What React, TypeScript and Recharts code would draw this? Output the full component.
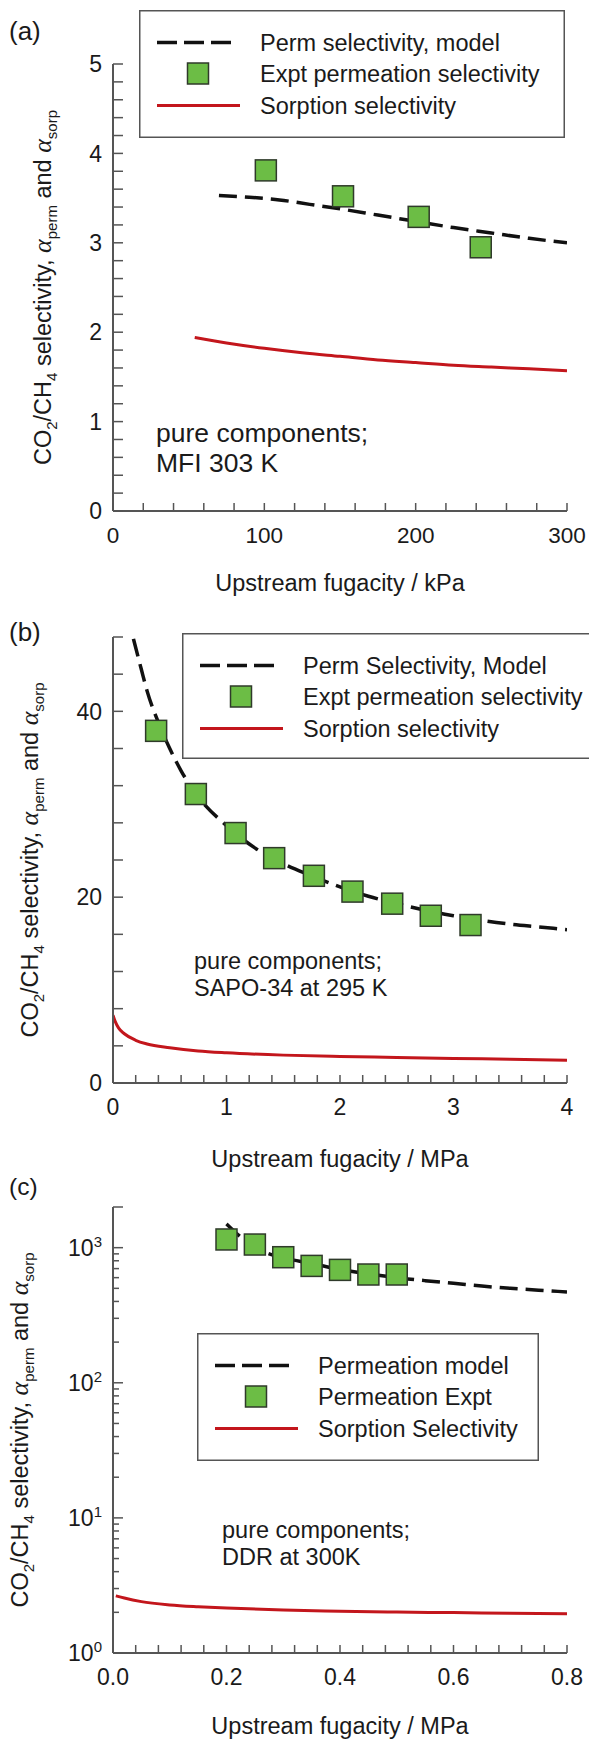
import React from 'react';
import { ComposedChart, Line, Scatter, XAxis, YAxis, Legend } from 'recharts';

const FONT = '"Liberation Sans", Arial, Helvetica, sans-serif';
const TEXT = '#1a1a1a';
const AXIS = '#555555';
const GREEN = '#6cbd45';
const GREEN_EDGE = '#2f3a2a';
const RED = '#c3161c';
const DASH = '#111111';
const FS = 23.5;

// ---------- Panel (a): MFI 303 K ----------
const modelAx = [70, 90, 110, 130, 150, 175, 200, 225, 250, 275, 300];
const modelAy = [3.53, 3.51, 3.48, 3.43, 3.38, 3.31, 3.24, 3.17, 3.11, 3.05, 3.0];
const exptAx = [101, 152, 202, 243];
const exptAy = [3.81, 3.52, 3.29, 2.95];
const sorpAx = [54, 75, 100, 125, 150, 175, 200, 225, 250, 275, 300];
const sorpAy = [1.94, 1.88, 1.82, 1.77, 1.73, 1.69, 1.66, 1.63, 1.61, 1.59, 1.57];
const xTicksA = [0, 20, 40, 60, 80, 100, 120, 140, 160, 180, 200, 220, 240, 260, 280, 300];
const xMajorA = [0, 100, 200, 300];
const yTicksA = [0, 0.2, 0.4, 0.6, 0.8, 1, 1.2, 1.4, 1.6, 1.8, 2, 2.2, 2.4, 2.6, 2.8, 3, 3.2, 3.4, 3.6, 3.8, 4, 4.2, 4.4, 4.6, 4.8, 5];
const yMajorA = [0, 1, 2, 3, 4, 5];
const legendA = ['Perm selectivity, model', 'Expt permeation selectivity', 'Sorption selectivity'];
const noteA = ['pure components;', 'MFI 303 K'];

// ---------- Panel (b): SAPO-34 at 295 K ----------
const modelBx = [0.18, 0.25, 0.3, 0.4, 0.5, 0.6, 0.75, 1.0, 1.25, 1.5, 1.75, 2.0, 2.25, 2.5, 2.75, 3.0, 3.25, 3.5, 3.75, 4.0];
const modelBy = [47.8, 44.5, 42.2, 38.8, 36.0, 33.6, 30.8, 27.7, 25.3, 23.6, 22.3, 21.1, 20.1, 19.3, 18.6, 18.0, 17.5, 17.1, 16.8, 16.5];
const exptBx = [0.38, 0.73, 1.08, 1.42, 1.77, 2.11, 2.46, 2.8, 3.15];
const exptBy = [37.9, 31.1, 26.9, 24.2, 22.3, 20.6, 19.3, 18.0, 17.0];
const sorpBx = [0, 0.02, 0.05, 0.1, 0.2, 0.3, 0.5, 0.75, 1.0, 1.5, 2.0, 2.5, 3.0, 3.5, 4.0];
const sorpBy = [7.3, 6.6, 5.9, 5.3, 4.6, 4.2, 3.8, 3.45, 3.25, 3.0, 2.85, 2.75, 2.65, 2.55, 2.45];
const xTicksB = [0, 0.2, 0.4, 0.6, 0.8, 1, 1.2, 1.4, 1.6, 1.8, 2, 2.2, 2.4, 2.6, 2.8, 3, 3.2, 3.4, 3.6, 3.8, 4];
const xMajorB = [0, 1, 2, 3, 4];
const yTicksB = [0, 4, 8, 12, 16, 20, 24, 28, 32, 36, 40, 44, 48];
const yMajorB = [0, 20, 40];
const legendB = ['Perm Selectivity, Model', 'Expt permeation selectivity', 'Sorption selectivity'];
const noteB = ['pure components;', 'SAPO-34 at 295 K'];

// ---------- Panel (c): DDR at 300K ----------
const modelCx = [0.2, 0.225, 0.25, 0.275, 0.3, 0.35, 0.4, 0.45, 0.5, 0.55, 0.6, 0.65, 0.7, 0.75, 0.8];
const modelCy = [1500, 1200, 1000, 900, 840, 765, 690, 640, 600, 570, 545, 520, 500, 485, 470];
const exptCx = [0.2, 0.25, 0.3, 0.35, 0.4, 0.45, 0.5];
const exptCy = [1150, 1055, 850, 733, 685, 633, 633];
const sorpCx = [0.005, 0.02, 0.05, 0.1, 0.15, 0.2, 0.3, 0.4, 0.5, 0.6, 0.7, 0.8];
const sorpCy = [2.65, 2.55, 2.4, 2.27, 2.2, 2.15, 2.08, 2.04, 2.01, 1.99, 1.97, 1.95];
const xTicksC = [0, 0.04, 0.08, 0.12, 0.16, 0.2, 0.24, 0.28, 0.32, 0.36, 0.4, 0.44, 0.48, 0.52, 0.56, 0.6, 0.64, 0.68, 0.72, 0.76, 0.8];
const xMajorC = [0, 0.2, 0.4, 0.6, 0.8];
const yTicksC = [1, 2, 3, 4, 5, 6, 7, 8, 9, 10, 20, 30, 40, 50, 60, 70, 80, 90, 100, 200, 300, 400, 500, 600, 700, 800, 900, 1000, 2000];
const yMajorC = [1, 10, 100, 1000];
const yExpC = ['0', '1', '2', '3'];
const legendC = ['Permeation model', 'Permeation Expt', 'Sorption Selectivity'];
const noteC = ['pure components;', 'DDR at 300K'];

const zip = (xs: number[], ys: number[]) => xs.map((x, i) => ({ x, y: ys[i] }));
const isIn = (v: number, arr: number[]) => arr.some((m) => Math.abs(m - v) < 1e-6);

function makeXTick(majors: number[], fmt: (v: number) => string, fs: number) {
  return (props: any) => {
    const { x, y, payload } = props;
    const v = payload.value;
    const major = isIn(v, majors);
    return (
      <g>
        <line x1={x} y1={y} x2={x} y2={y - 8} stroke={AXIS} strokeWidth={1.5} />
        {major && (
          <text x={x} y={y + 32} textAnchor="middle" fontSize={fs} fontFamily={FONT} fill={TEXT}>
            {fmt(v)}
          </text>
        )}
      </g>
    );
  };
}

function makeYTick(majors: number[], fmt: (v: number) => string) {
  return (props: any) => {
    const { x, y, payload } = props;
    const v = payload.value;
    const major = isIn(v, majors);
    return (
      <g>
        <line x1={x} y1={y} x2={x + 10} y2={y} stroke={AXIS} strokeWidth={1.5} />
        {major && (
          <text x={x - 11} y={y} dy="0.36em" textAnchor="end" fontSize={23} fontFamily={FONT} fill={TEXT}>
            {fmt(v)}
          </text>
        )}
      </g>
    );
  };
}

function makeLogYTick(majors: number[], exps: string[]) {
  return (props: any) => {
    const { x, y, payload } = props;
    const v = payload.value;
    const idx = majors.findIndex((m) => Math.abs(m - v) < 1e-6);
    const len = idx >= 0 || v === 2000 ? 10 : 6;
    return (
      <g>
        <line x1={x} y1={y} x2={x + len} y2={y} stroke={AXIS} strokeWidth={1.5} />
        {idx >= 0 && (
          <text x={x - 11} y={y} dy="0.36em" textAnchor="end" fontSize={23} fontFamily={FONT} fill={TEXT}>
            10
            <tspan dy={-9} fontSize={15}>
              {exps[idx]}
            </tspan>
          </text>
        )}
      </g>
    );
  };
}

const squareShape = (props: any) => {
  const { cx, cy } = props;
  return <rect x={cx - 10.5} y={cy - 10.5} width={21} height={21} fill={GREEN} stroke={GREEN_EDGE} strokeWidth={1.5} />;
};

function YTitle({ x, y }: { x: number; y: number }) {
  return (
    <text
      transform={`rotate(-90 ${x} ${y})`}
      x={x}
      y={y}
      textAnchor="middle"
      fontSize={FS}
      fontFamily={FONT}
      fill={TEXT}
    >
      {'CO'}
      <tspan fontSize={15} dy={6}>{'2'}</tspan>
      <tspan dy={-6}>{'/CH'}</tspan>
      <tspan fontSize={15} dy={6}>{'4'}</tspan>
      <tspan dy={-6}>{' selectivity, '}</tspan>
      <tspan fontStyle="italic" fontFamily='"Liberation Serif", serif' fontSize={26}>{'α'}</tspan>
      <tspan fontSize={15} dy={6}>{'perm'}</tspan>
      <tspan dy={-6}>{' and '}</tspan>
      <tspan fontStyle="italic" fontFamily='"Liberation Serif", serif' fontSize={26}>{'α'}</tspan>
      <tspan fontSize={15} dy={6}>{'sorp'}</tspan>
    </text>
  );
}

function LegendBox({ w, h, labels, rightBorder }: { w: number; h: number; labels: string[]; rightBorder: boolean }) {
  const rows = [32.5, 63.5, 95.5];
  return (
    <svg width={w} height={h} style={{ display: 'block', overflow: 'visible' }}>
      <rect x={0} y={0} width={w} height={h} fill="#ffffff" />
      {rightBorder ? (
        <rect x={0.75} y={0.75} width={w - 1.5} height={h - 1.5} fill="none" stroke={AXIS} strokeWidth={1.5} />
      ) : (
        <path d={`M ${w + 5} 0.75 H 0.75 V ${h - 0.75} H ${w + 5}`} fill="none" stroke={AXIS} strokeWidth={1.5} />
      )}
      <line x1={18} y1={rows[0]} x2={92} y2={rows[0]} stroke={DASH} strokeWidth={3.5} strokeDasharray="20 7" />
      <rect x={48.5} y={rows[1] - 10.5} width={21} height={21} fill={GREEN} stroke={GREEN_EDGE} strokeWidth={1.5} />
      <line x1={18} y1={rows[2]} x2={101} y2={rows[2]} stroke={RED} strokeWidth={3} />
      {labels.map((t, i) => (
        <text key={t} x={121} y={rows[i] + 8} fontSize={FS} fontFamily={FONT} fill={TEXT}>
          {t}
        </text>
      ))}
    </svg>
  );
}

type PanelProps = {
  top: number;
  height: number;
  plotTop: number;
  plotBottom: number;
  xDomain: [number, number];
  yDomain: [number, number];
  logY?: boolean;
  xTicks: number[];
  yTicks: number[];
  xTick: any;
  yTick: any;
  model: { x: number; y: number }[];
  expt: { x: number; y: number }[];
  sorp: { x: number; y: number }[];
  legendLabels: string[];
  legendBox: { left: number; top: number; width: number; height: number; rightBorder: boolean };
  panelLabel: string;
  panelLabelY: number;
  panelLabelFs: number;
  xTitle: string;
  xTitleY: number;
  yTitleX: number;
  note: string[];
  noteX: number;
  noteY: number[];
  noteFs: number;
};

const PLOT_LEFT = 113;
const PLOT_RIGHT = 567;
const W = 589;

function Panel(p: PanelProps) {
  const yAxisW = 60;
  const xAxisH = 30;
  const margin = {
    top: p.plotTop,
    right: W - PLOT_RIGHT,
    left: PLOT_LEFT - yAxisW,
    bottom: p.height - p.plotBottom - xAxisH,
  };
  const plotMidY = (p.plotTop + p.plotBottom) / 2;
  const plotMidX = (PLOT_LEFT + PLOT_RIGHT) / 2;
  return (
    <div style={{ position: 'absolute', left: 0, top: p.top, width: W, height: p.height }}>
      <ComposedChart width={W} height={p.height} margin={margin} style={{ fontFamily: FONT }}>
        <XAxis
          type="number"
          dataKey="x"
          domain={p.xDomain}
          ticks={p.xTicks}
          interval={0}
          allowDataOverflow
          height={xAxisH}
          tickSize={0}
          tickMargin={0}
          tickLine={false}
          axisLine={{ stroke: AXIS, strokeWidth: 2 }}
          tick={p.xTick}
        />
        <YAxis
          type="number"
          dataKey="y"
          scale={p.logY ? 'log' : 'linear'}
          domain={p.yDomain}
          ticks={p.yTicks}
          interval={0}
          allowDataOverflow
          width={yAxisW}
          tickSize={0}
          tickMargin={0}
          tickLine={false}
          axisLine={{ stroke: AXIS, strokeWidth: 2 }}
          tick={p.yTick}
        />
        <Legend
          layout="vertical"
          align="center"
          verticalAlign="middle"
          wrapperStyle={{
            left: p.legendBox.left,
            top: p.legendBox.top,
            width: p.legendBox.width,
            height: p.legendBox.height,
            margin: 0,
            padding: 0,
            lineHeight: 0,
          }}
          content={() => (
            <LegendBox
              w={p.legendBox.width}
              h={p.legendBox.height}
              labels={p.legendLabels}
              rightBorder={p.legendBox.rightBorder}
            />
          )}
        />
        <Line
          name={p.legendLabels[2]}
          data={p.sorp}
          dataKey="y"
          type="monotone"
          stroke={RED}
          strokeWidth={3}
          dot={false}
          activeDot={false}
          isAnimationActive={false}
        />
        <Line
          name={p.legendLabels[0]}
          data={p.model}
          dataKey="y"
          type="monotone"
          stroke={DASH}
          strokeWidth={3.5}
          strokeDasharray="18 8"
          dot={false}
          activeDot={false}
          isAnimationActive={false}
        />
        <Scatter
          name={p.legendLabels[1]}
          data={p.expt}
          dataKey="y"
          shape={squareShape}
          isAnimationActive={false}
        />
        <text x={9} y={p.panelLabelY + 8} fontSize={p.panelLabelFs} fontFamily={FONT} fill={TEXT}>
          {p.panelLabel}
        </text>
        <text x={plotMidX} y={p.xTitleY} textAnchor="middle" fontSize={FS} fontFamily={FONT} fill={TEXT}>
          {p.xTitle}
        </text>
        <YTitle x={p.yTitleX} y={plotMidY} />
        {p.note.map((t, i) => (
          <text key={t} x={p.noteX} y={p.noteY[i]} fontSize={p.noteFs} fontFamily={FONT} fill={TEXT}>
            {t}
          </text>
        ))}
      </ComposedChart>
    </div>
  );
}

export default function App() {
  return (
    <div style={{ position: 'absolute', left: 0, top: 0, width: W, height: 1742, background: '#ffffff', overflow: 'hidden' }}>
      <Panel
        top={0}
        height={610}
        plotTop={64}
        plotBottom={511}
        xDomain={[0, 300]}
        yDomain={[0, 5]}
        xTicks={xTicksA}
        yTicks={yTicksA}
        xTick={makeXTick(xMajorA, (v) => String(v), 22.5)}
        yTick={makeYTick(yMajorA, (v) => String(v))}
        model={zip(modelAx, modelAy)}
        expt={zip(exptAx, exptAy)}
        sorp={zip(sorpAx, sorpAy)}
        legendLabels={legendA}
        legendBox={{ left: 139, top: 10, width: 426, height: 128, rightBorder: true }}
        panelLabel="(a)"
        panelLabelY={32}
        panelLabelFs={26}
        xTitle="Upstream fugacity / kPa"
        xTitleY={591}
        yTitleX={51}
        note={noteA}
        noteX={156}
        noteY={[442, 472]}
        noteFs={26.5}
      />
      <Panel
        top={600}
        height={590}
        plotTop={37}
        plotBottom={483}
        xDomain={[0, 4]}
        yDomain={[0, 48]}
        xTicks={xTicksB}
        yTicks={yTicksB}
        xTick={makeXTick(xMajorB, (v) => String(v), 23)}
        yTick={makeYTick(yMajorB, (v) => String(v))}
        model={zip(modelBx, modelBy)}
        expt={zip(exptBx, exptBy)}
        sorp={zip(sorpBx, sorpBy)}
        legendLabels={legendB}
        legendBox={{ left: 182, top: 33, width: 407, height: 126, rightBorder: false }}
        panelLabel="(b)"
        panelLabelY={33}
        panelLabelFs={26}
        xTitle="Upstream fugacity / MPa"
        xTitleY={567}
        yTitleX={38}
        note={noteB}
        noteX={194}
        noteY={[369, 396]}
        noteFs={FS}
      />
      <Panel
        top={1165}
        height={577}
        plotTop={42}
        plotBottom={488}
        xDomain={[0, 0.8]}
        yDomain={[1, 2000]}
        logY
        xTicks={xTicksC}
        yTicks={yTicksC}
        xTick={makeXTick(xMajorC, (v) => v.toFixed(1), 23)}
        yTick={makeLogYTick(yMajorC, yExpC)}
        model={zip(modelCx, modelCy)}
        expt={zip(exptCx, exptCy)}
        sorp={zip(sorpCx, sorpCy)}
        legendLabels={legendC}
        legendBox={{ left: 196.5, top: 168, width: 342, height: 128, rightBorder: true }}
        panelLabel="(c)"
        panelLabelY={22}
        panelLabelFs={24.5}
        xTitle="Upstream fugacity / MPa"
        xTitleY={569}
        yTitleX={28}
        note={noteC}
        noteX={222}
        noteY={[373, 400]}
        noteFs={FS}
      />
    </div>
  );
}
